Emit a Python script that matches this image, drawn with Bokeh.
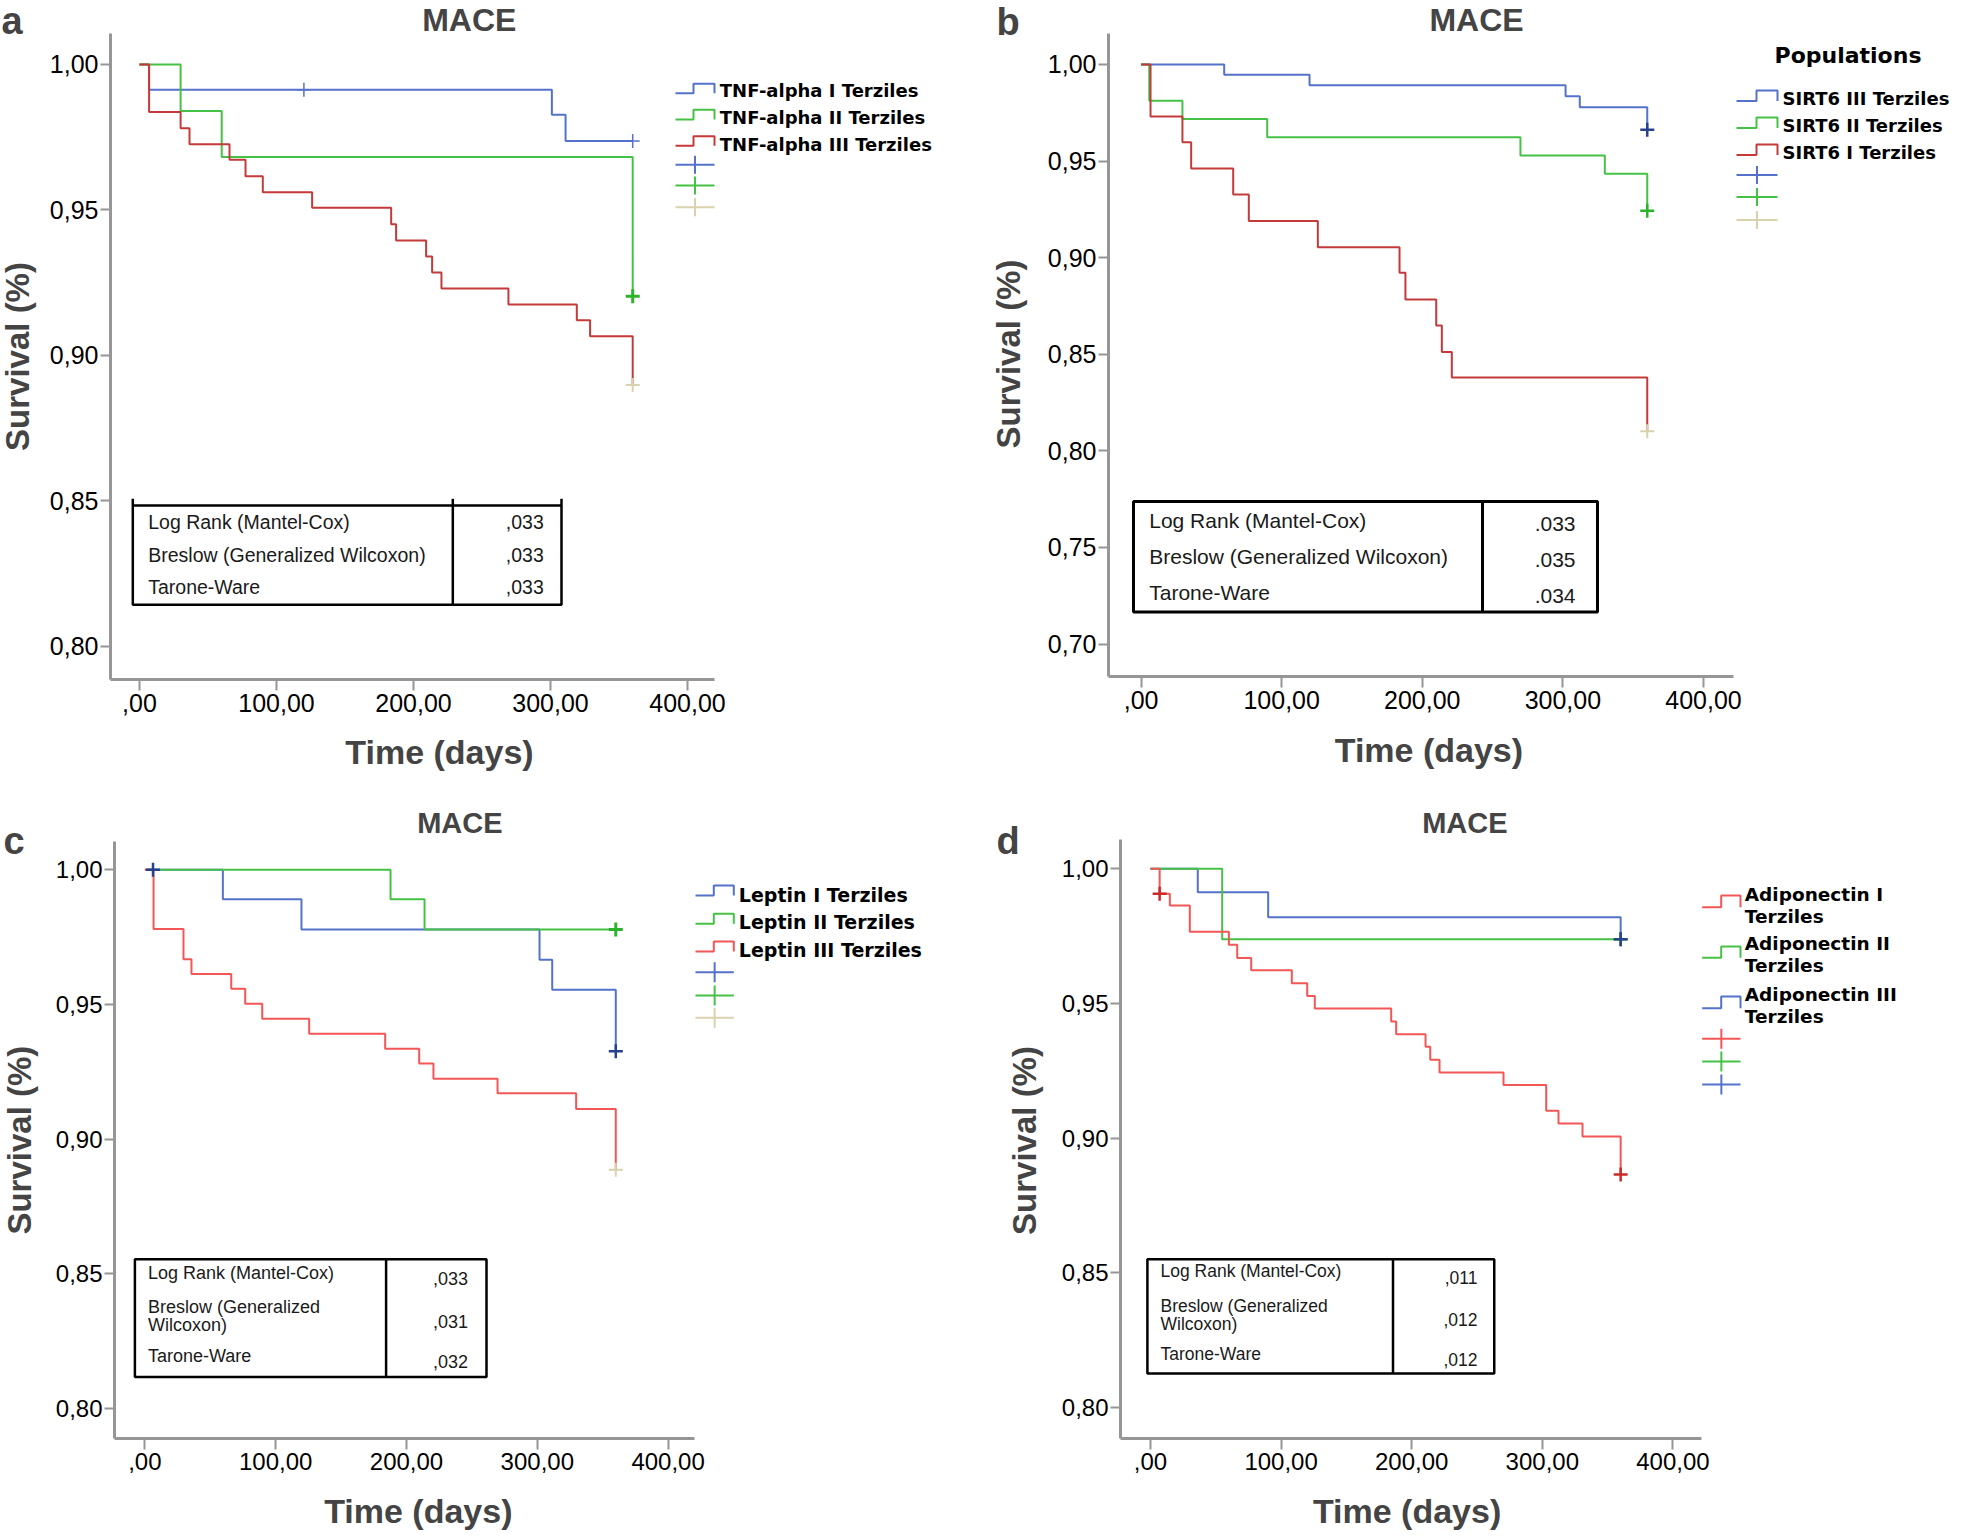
import math
from bokeh.plotting import figure
from bokeh.models import Label, FixedTicker, Range1d
from bokeh.layouts import row, column
from bokeh.embed import file_html
from bokeh.resources import INLINE
from bokeh.core.properties import value

# ---------------- shared axis ticks / texts ----------------
x_ticks = [0, 100, 200, 300, 400]
x_tick_labels = [",00", "100,00", "200,00", "300,00", "400,00"]
y_ticks_80 = [0.80, 0.85, 0.90, 0.95, 1]
y_tick_labels_80 = ["0,80", "0,85", "0,90", "0,95", "1,00"]
y_ticks_70 = [0.70, 0.75, 0.80, 0.85, 0.90, 0.95, 1]
y_tick_labels_70 = ["0,70", "0,75", "0,80", "0,85", "0,90", "0,95", "1,00"]
test_names = ["Log Rank (Mantel-Cox)", "Breslow (Generalized Wilcoxon)", "Tarone-Ware"]
chart_title = "MACE"
x_title = "Time (days)"
y_title = "Survival (%)"

# ---------------- panel a : TNF-alpha ----------------
a_names = ["TNF-alpha I Terziles", "TNF-alpha II Terziles", "TNF-alpha III Terziles"]
a_t1 = [0, 7, 301, 311, 360]
a_s1 = [1.0, 0.9913, 0.9827, 0.9737, 0.9737]
a_t2 = [0, 30, 60, 360]
a_s2 = [1.0, 0.9840, 0.9682, 0.9203]
a_t3 = [0, 7, 30, 36.5, 65.7, 77.4, 90, 126, 183.7, 187.3, 209.2, 213.6, 220.4, 269.3, 319.2, 328.9, 360]
a_s3 = [1.0, 0.9836, 0.9781, 0.9726, 0.9672, 0.9616, 0.9561, 0.9507, 0.9451, 0.9395, 0.9340,
        0.9285, 0.9230, 0.9175, 0.9121, 0.9066, 0.8898]
a_c1_t = [120, 360]
a_c1_s = [0.9913, 0.9737]
a_c2_t = [360]
a_c2_s = [0.9203]
a_c3_t = [360]
a_c3_s = [0.8898]
a_pvals = [",033", ",033", ",033"]

# ---------------- panel b : SIRT6 ----------------
b_names = ["SIRT6 III Terziles", "SIRT6 II Terziles", "SIRT6 I Terziles"]
b_t1 = [0, 59.1, 119.8, 301.9, 312, 360]
b_s1 = [1.0, 0.9946, 0.9892, 0.9835, 0.9778, 0.9662]
b_t2 = [0, 5.8, 29.4, 89.7, 269.8, 329.8, 360]
b_s2 = [1.0, 0.9812, 0.9718, 0.9623, 0.9528, 0.9434, 0.9243]
b_t3 = [0, 6.7, 29.4, 35.6, 65.5, 76.6, 125.7, 183.8, 188, 209.9, 213.9, 221, 360]
b_s3 = [1.0, 0.9730, 0.9597, 0.9461, 0.9327, 0.9189, 0.9054, 0.8921, 0.8783, 0.8649, 0.8512, 0.8379, 0.8101]
b_c1_t = [360]
b_c1_s = [0.9662]
b_c2_t = [360]
b_c2_s = [0.9243]
b_c3_t = [360]
b_c3_s = [0.8101]
b_pvals = [".033", ".035", ".034"]
b_legend_title = "Populations"

# ---------------- panel c : Leptin ----------------
c_names = ["Leptin I Terziles", "Leptin II Terziles", "Leptin III Terziles"]
c_t1 = [0, 59.6, 119.7, 301.7, 311.4, 360]
c_s1 = [1.0, 0.9890, 0.9778, 0.9666, 0.9554, 0.9326]
c_t2 = [0, 187.8, 213.8, 360]
c_s2 = [1.0, 0.9890, 0.9778, 0.9778]
c_t3 = [0, 6.6, 29.5, 35.6, 66, 76.7, 89.7, 125.6, 183.7, 209.7, 220.6, 269.6, 329.7, 360]
c_s3 = [1.0, 0.9780, 0.9668, 0.9613, 0.9558, 0.9502, 0.9447, 0.9391, 0.9335, 0.9281, 0.9224,
        0.9170, 0.9112, 0.8886]
c_c1_t = [6.2, 360]
c_c1_s = [1.0, 0.9326]
c_c2_t = [360]
c_c2_s = [0.9778]
c_c3_t = [360]
c_c3_s = [0.8886]
c_pvals = [",033", ",031", ",032"]

# ---------------- panel d : Adiponectin ----------------
d_names = ["Adiponectin I Terziles", "Adiponectin II Terziles", "Adiponectin III Terziles"]
d_t1 = [0, 7, 14.8, 30.1, 60, 66.4, 77.1, 108.2, 120, 125.8, 184.3, 188.1, 210.6, 214.2, 221.3,
        270.3, 303, 312.4, 330.8, 360]
d_s1 = [1.0, 0.9907, 0.9863, 0.9766, 0.9718, 0.9669, 0.9623, 0.9575, 0.9528, 0.9481, 0.9433,
        0.9386, 0.9339, 0.9291, 0.9244, 0.9197, 0.9102, 0.9055, 0.9006, 0.8865]
d_t2 = [0, 54.9, 360]
d_s2 = [1.0, 0.9738, 0.9738]
d_t3 = [0, 36.2, 90.1, 360]
d_s3 = [1.0, 0.9913, 0.9820, 0.9738]
d_c1_t = [7, 360]
d_c1_s = [0.9907, 0.8865]
d_c2_t = [360]
d_c2_s = [0.9738]
d_c3_t = [360]
d_c3_s = [0.9738]
d_pvals = [",011", ",012", ",012"]

# ---------------- styles ----------------
BLUE = "#5472c9"
GREEN = "#45c245"
RED_D = "#c43a3a"
RED_B = "#f25656"
TAN = "#d9d2ae"
NAVY = "#27418d"
GREEN_D = "#2cb32c"
RED_DD = "#cc2a2a"
AXIS = "#969696"
SANS = "Liberation Sans"
LEG = "DejaVu Sans"
MID = 0.35  # distance (in em) from the text baseline to the 'middle' anchor


def px(fs):
    return float(fs.replace("px", ""))


def build(cfg):
    x0, kx, y1, ky = cfg["map"]

    def fx(r):
        return (r - x0) / kx

    def fy(r):
        return 1.0 - (r - y1) / ky

    cl, ct, cr, cb = cfg["canvas"]
    ax_x, ax_top, ax_xend, ax_y = cfg["axes"]
    p = figure(width=cr - cl, height=cb - ct,
               x_range=Range1d(fx(cl), fx(cr)), y_range=Range1d(fy(cb), fy(ct)),
               min_border_left=0, min_border_right=0, min_border_top=0, min_border_bottom=0,
               output_backend="svg", toolbar_location=None,
               background_fill_color="white", border_fill_color="white",
               outline_line_color=None)
    p.grid.visible = False

    for ax in (p.xaxis[0], p.yaxis[0]):
        ax.axis_line_color = AXIS
        ax.axis_line_width = 3
        ax.major_tick_line_color = AXIS
        ax.major_tick_line_width = 2
        ax.major_tick_in = 0
        ax.minor_tick_in = 0
        ax.minor_tick_out = 0
        ax.major_label_text_font = SANS
        ax.major_label_text_font_size = cfg["tick_fs"]
        ax.major_label_text_color = "black"
    p.xaxis.ticker = FixedTicker(ticks=x_ticks, minor_ticks=[])
    p.xaxis.major_label_overrides = dict(zip(x_ticks, x_tick_labels))
    p.xaxis.major_tick_out = 11
    p.xaxis.major_label_standoff = 3
    p.xaxis.fixed_location = fy(ax_y)
    p.xaxis.bounds = (fx(ax_x), fx(ax_xend))
    p.yaxis.ticker = FixedTicker(ticks=cfg["yticks"], minor_ticks=[])
    p.yaxis.major_label_overrides = dict(zip(cfg["yticks"], cfg["ylabels"]))
    p.yaxis.major_tick_out = 10
    p.yaxis.major_label_standoff = 2
    p.yaxis.fixed_location = fx(ax_x)
    p.yaxis.bounds = (fy(ax_y), fy(ax_top))

    # curves
    for t, s, col in cfg["series"]:
        p.step(t, s, mode="after", line_color=col, line_width=2)
    for t, s, col, lw in cfg["censors"]:
        p.scatter(t, s, marker="cross", size=14, line_color=col, line_width=lw)

    def txt(rx, ry, s, fs, font=SANS, bold=False, align="left", color="black"):
        # ry is the baseline position; anchor the text at its middle
        p.text(x=[fx(rx)], y=[fy(ry - MID * px(fs))], text=[s], text_font=value(font),
               text_font_size=value(fs), text_font_style=value("bold" if bold else "normal"),
               text_align=value(align), text_baseline=value("middle"), text_color=color)

    def lab(rx, ry, s, fs, align="center", angle=0.0):
        yy = ry - MID * px(fs) if angle == 0.0 else ry
        p.add_layout(Label(x=fx(rx), y=fy(yy), text=s, text_font=SANS, text_font_size=fs,
                           text_font_style="bold", text_align=align, text_baseline="middle",
                           angle=angle))

    # legend
    lg = cfg["legend"]
    L, M, R = lg["icon"]
    if lg.get("title"):
        ttxt, tx, ty, tfs = lg["title"]
        txt(tx, ty, ttxt, tfs, font=LEG, bold=True, align="center")
    for name, col, rw in zip(lg["names"], lg["colors"], lg["rows"]):
        top, low = rw[0], rw[1]
        p.line([fx(L), fx(M), fx(M), fx(R), fx(R)], [fy(low), fy(low), fy(top), fy(top), fy(low)],
               line_color=col, line_width=2)
        if lg["wrap"]:
            first, second = name.rsplit(" ", 1)
            txt(lg["text_x"], rw[2], first, lg["fs"], font=LEG, bold=True)
            txt(lg["text_x"], rw[3], second, lg["fs"], font=LEG, bold=True)
        else:
            txt(lg["text_x"], rw[2], name, lg["fs"], font=LEG, bold=True)
    xc = (L + R) / 2.0
    h = lg["cross_h"] / 2.0
    for col, yc in zip(lg["cross_colors"], lg["cross_ys"]):
        p.line([fx(L), fx(R)], [fy(yc), fy(yc)], line_color=col, line_width=2)
        p.line([fx(xc), fx(xc)], [fy(yc - h), fy(yc + h)], line_color=col, line_width=2)

    # statistics table
    tb = cfg["table"]
    bl, btop, br, bbot = tb["box"]
    p.quad(left=[fx(bl)], right=[fx(br)], top=[fy(btop)], bottom=[fy(bbot)],
           fill_color=None, line_color="black", line_width=tb["lw"])
    stub = tb.get("stubs") or btop
    p.segment(x0=[fx(tb["div"])], y0=[fy(stub)], x1=[fx(tb["div"])], y1=[fy(bbot)],
              line_color="black", line_width=tb["lw"])
    if tb.get("stubs"):
        p.segment(x0=[fx(bl), fx(br)], y0=[fy(stub), fy(stub)], x1=[fx(bl), fx(br)],
                  y1=[fy(btop), fy(btop)], line_color="black", line_width=tb["lw"])
    for s, yb in tb["lines"]:
        txt(tb["text_x"], yb, s, tb["fs"], color="#1a1a1a")
    for s, yb in zip(tb["vals"], tb["val_y"]):
        txt(tb["val_x"], yb, s, tb["fs"], align="right", color="#1a1a1a")

    # titles
    lt, lx, ly = cfg["letter"]
    lab(lx, ly, lt, "38px", align="left")
    tx, ty, tfs = cfg["title"]
    lab(tx, ty, chart_title, tfs)
    yx, yy = cfg["ytitle"]
    lab(yx, yy, y_title, "33px", angle=math.pi / 2)
    xx, xy = cfg["xtitle"]
    lab(xx, xy, x_title, "34px")
    return p


def wrap_names(names):
    first, second = names[1].split(" Wilcoxon")
    return [names[0], first, "Wilcoxon" + second, names[2]]


cfg_a = dict(
    canvas=(0, 0, 980, 788), axes=(110, 33, 714, 679), map=(139.0, 1.37, 63.9, 2910.0),
    yticks=y_ticks_80, ylabels=y_tick_labels_80, tick_fs="25px",
    series=[(a_t1, a_s1, BLUE), (a_t2, a_s2, GREEN), (a_t3, a_s3, RED_D)],
    censors=[(a_c1_t, a_c1_s, BLUE, 1.5), (a_c2_t, a_c2_s, GREEN_D, 3), (a_c3_t, a_c3_s, TAN, 2)],
    letter=("a", 1, 34), title=(468.75, 31, "32px"), ytitle=(17, 356), xtitle=(439, 763.7),
    legend=dict(names=a_names, colors=[BLUE, GREEN, RED_D], icon=(675, 693, 714),
                rows=[(83.3, 92.7, 96.7), (109.3, 119, 123.3), (135.7, 145.3, 150)],
                text_x=719.3, fs="18px", wrap=False,
                cross_colors=[BLUE, GREEN, TAN], cross_ys=[164.3, 185, 206.7], cross_h=18),
    table=dict(box=(132.3, 505, 561, 604.3), div=452.3, stubs=498.3, lw=2.5, fs="19.5px",
               text_x=147.7, val_x=543.3,
               lines=list(zip(test_names, [528.3, 561.7, 593.3])),
               vals=a_pvals, val_y=[528.3, 561.7, 593.3]),
)

cfg_b = dict(
    canvas=(980, 0, 1958, 788), axes=(1108, 33, 1733, 676), map=(1140.6, 1.406, 63.9, 1932.0),
    yticks=y_ticks_70, ylabels=y_tick_labels_70, tick_fs="25px",
    series=[(b_t1, b_s1, BLUE), (b_t2, b_s2, GREEN), (b_t3, b_s3, RED_D)],
    censors=[(b_c1_t, b_c1_s, NAVY, 2.5), (b_c2_t, b_c2_s, GREEN_D, 2.5), (b_c3_t, b_c3_s, TAN, 2)],
    letter=("b", 996, 35), title=(1476, 31, "32px"), ytitle=(1008, 353.5), xtitle=(1428.4, 761),
    legend=dict(names=b_names, colors=[BLUE, GREEN, RED_D], icon=(1736, 1756, 1777),
                rows=[(90, 100.5, 104.5), (117, 127.5, 131.5), (144, 154.5, 158.5)],
                text_x=1782, fs="18px", wrap=False, title=(b_legend_title, 1847.5, 63, "22px"),
                cross_colors=[BLUE, GREEN, TAN], cross_ys=[174.4, 196.5, 219.5], cross_h=18),
    table=dict(box=(1133, 501, 1597, 611.5), div=1482, stubs=None, lw=3, fs="21px",
               text_x=1148.75, val_x=1575,
               lines=list(zip(test_names, [527, 563, 599])),
               vals=b_pvals, val_y=[530.5, 567, 603]),
)

cfg_c = dict(
    canvas=(0, 788, 980, 1530), axes=(114, 841, 694.4, 1438), map=(144.4, 1.308, 869.2, 2694.0),
    yticks=y_ticks_80, ylabels=y_tick_labels_80, tick_fs="24px",
    series=[(c_t1, c_s1, BLUE), (c_t2, c_s2, GREEN), (c_t3, c_s3, RED_B)],
    censors=[(c_c1_t, c_c1_s, NAVY, 2.5), (c_c2_t, c_c2_s, GREEN_D, 3), (c_c3_t, c_c3_s, TAN, 2)],
    letter=("c", 3, 853.5), title=(459.4, 833, "29px"), ytitle=(19, 1139.6), xtitle=(417.8, 1522),
    legend=dict(names=c_names, colors=[BLUE, GREEN, RED_B], icon=(695, 713.3, 733.3),
                rows=[(885, 895, 900.7), (913.3, 923.3, 928.3), (941, 951, 956)],
                text_x=738.3, fs="19px", wrap=False,
                cross_colors=[BLUE, GREEN, TAN], cross_ys=[971.7, 995, 1017.3], cross_h=20),
    table=dict(box=(134.4, 1258.7, 486, 1376.6), div=385.6, stubs=None, lw=2.5, fs="18px",
               text_x=147.5, val_x=467.5,
               lines=list(zip(wrap_names(test_names), [1278.3, 1312.7, 1331, 1361.8])),
               vals=c_pvals, val_y=[1284.7, 1327.5, 1366.8]),
)

cfg_d = dict(
    canvas=(980, 788, 1958, 1530), axes=(1120, 839, 1700.6, 1438), map=(1150.0, 1.306, 868.2, 2695.0),
    yticks=y_ticks_80, ylabels=y_tick_labels_80, tick_fs="24px",
    series=[(d_t3, d_s3, BLUE), (d_t2, d_s2, GREEN), (d_t1, d_s1, RED_B)],
    censors=[(d_c1_t, d_c1_s, RED_DD, 2.5), (d_c2_t, d_c2_s, GREEN_D, 2.5), (d_c3_t, d_c3_s, NAVY, 2.5)],
    letter=("d", 996, 853.5), title=(1464.4, 833, "29px"), ytitle=(1023.5, 1140), xtitle=(1406.6, 1522),
    legend=dict(names=d_names, colors=[RED_B, GREEN, BLUE], icon=(1701.7, 1720.7, 1740),
                rows=[(895, 906.7, 900.7, 922.7), (946, 957.3, 949.3, 971.7), (996, 1007.7, 1000.7, 1022.7)],
                text_x=1744.3, fs="18.5px", wrap=True,
                cross_colors=[RED_B, GREEN, BLUE], cross_ys=[1038.3, 1061, 1084], cross_h=20),
    table=dict(box=(1146.9, 1258.7, 1493.75, 1373), div=1392.5, stubs=None, lw=2.5, fs="17.5px",
               text_x=1160, val_x=1477,
               lines=list(zip(wrap_names(test_names), [1276.9, 1311.3, 1330, 1359.4])),
               vals=d_pvals, val_y=[1283.3, 1325, 1365.3]),
)

pa = build(cfg_a)
pb = build(cfg_b)
pc = build(cfg_c)
pd = build(cfg_d)

layout = column(row(pa, pb), row(pc, pd))
open("out.html", "w").write(file_html(layout, INLINE, title="MACE survival"))
